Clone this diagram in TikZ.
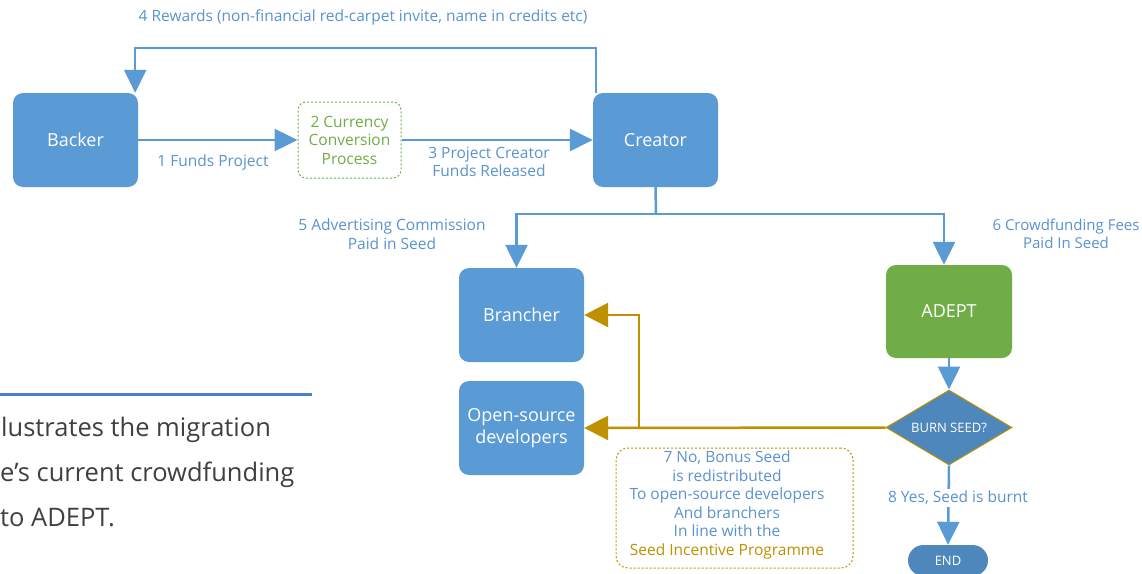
\documentclass[tikz,border=0pt]{standalone}
\usepackage{fontspec}
\setmainfont{Open Sans}
\usetikzlibrary{arrows.meta,shapes.geometric,shapes.misc,calc}
\definecolor{boxblue}{HTML}{5B9BD5}
\definecolor{boxgreen}{HTML}{70AD47}
\definecolor{gold}{HTML}{BF9000}
\definecolor{dblue}{HTML}{4E87BC}
\definecolor{lblue}{HTML}{5A93CE}
\definecolor{txtgray}{HTML}{404040}
\definecolor{rule}{HTML}{4A7FCF}
\begin{document}
\begin{tikzpicture}[x=1pt,y=-1pt,
  box/.style={rounded corners=10pt, minimum width=125pt, minimum height=94pt, text=white,
    font=\fontsize{18}{22}\selectfont, align=center, inner sep=0pt},
  bluebox/.style={box, fill=boxblue},
  greenbox/.style={box, fill=boxgreen, minimum width=126pt, minimum height=93pt},
  conv/.style={draw=boxgreen, line width=1pt, dash pattern=on 2pt off 2pt, rounded corners=8pt,
    minimum width=103pt, minimum height=76pt, text=boxgreen, align=center, inner sep=0pt,
    font=\fontsize{15.5}{18.5}\selectfont},
  notebox/.style={draw=gold, line width=1pt, dash pattern=on 2pt off 2pt, rounded corners=12pt,
    minimum width=237pt, minimum height=120pt, inner sep=0pt},
  flow/.style={draw=boxblue, line width=2.5pt, -{Triangle[length=23pt,width=22pt]}},
  plain/.style={draw=boxblue, line width=2.5pt},
  goldflow/.style={draw=gold, line width=2.5pt, -{Triangle[length=24pt,width=24pt]}},
  lbl/.style={text=lblue, font=\fontsize{15.5}{18.6}\selectfont, align=center, inner sep=0pt},
  body/.style={text=txtgray, font=\fontsize{25.5}{28}\selectfont, anchor=base west, inner sep=0pt}
]
\useasboundingbox (0,0) rectangle (1142,573);
\fill[white] (0,0) rectangle (1142,573);

% nodes
\node[bluebox] (backer) at (75.5,140) {Backer};
\node[conv] (conv) at (349.5,140) {2 Currency\\Conversion\\Process};
\node[bluebox] (creator) at (655.5,140) {Creator};
\node[bluebox] (brancher) at (521.5,315) {Brancher};
\node[bluebox] (oss) at (521.5,428) {Open-source\\developers};
\node[greenbox] (adept) at (949,311.5) {ADEPT};
\node[diamond, shape aspect=1.68, fill=dblue, draw=gold, line width=1pt, minimum width=126pt, minimum height=75pt,
  inner sep=0pt, text=white, font=\fontsize{13}{15}\selectfont] (burn) at (949,427.5) {BURN SEED?};
\node[rounded rectangle, fill=dblue, minimum width=80pt, minimum height=31pt, inner sep=0pt,
  text=white, font=\fontsize{13}{15}\selectfont] (end) at (948,560.5) {END};
\node[notebox] (note) at (734.5,508) {};
\node[lbl] (notetext) at (727,505) {7 No, Bonus Seed\\is redistributed\\To open-source developers\\And branchers\\In line with the\\\textcolor{gold}{Seed Incentive Programme}};

% coordinates
\coordinate (rtop) at (365,48);
\coordinate (split) at (656,214);
\coordinate (gj) at (639,428);

% connectors
\draw[flow] (backer.east) -- (conv.west);
\draw[flow] (conv.east) -- (creator.west);
\draw[flow] ([xshift=3pt]creator.north west) |- (rtop) -| ([xshift=-3pt]backer.north east);
\draw[plain] (creator.south) -- (split);
\draw[flow] (split) -| ([xshift=-5pt]brancher.north);
\draw[flow] (split) -| ([xshift=-5pt]adept.north);
\draw[flow] (adept.south) -- (burn.north);
\draw[flow] (burn.south) -- (end.north);
\draw[goldflow] (burn.west) -- (oss.east);
\draw[goldflow] (gj) |- (brancher.east);

% labels
\node[lbl] (l4) at (363,17) {4 Rewards (non-financial red-carpet invite, name in credits etc)};
\node[lbl] (l1) at (213,162) {1 Funds Project};
\node[lbl] (l3) at (489,162) {3 Project Creator\\Funds Released};
\node[lbl] (l5) at (392,234) {5 Advertising Commission\\Paid in Seed};
\node[lbl, font=\fontsize{15}{18.6}\selectfont] (l6) at (1066,234) {6 Crowdfunding Fees\\Paid In Seed};
\node[lbl, fill=white, inner sep=2pt] (l8) at (958,498) {8 Yes, Seed is burnt};

% side text
\fill[rule] (0,392.5) rectangle (312,395.5);
\node[body] (t1) at (1,436) {lustrates the migration};
\node[body] (t2) at (0,481) {e’s current crowdfunding};
\node[body] (t3) at (0,526) {to ADEPT.};
\end{tikzpicture}
\end{document}
